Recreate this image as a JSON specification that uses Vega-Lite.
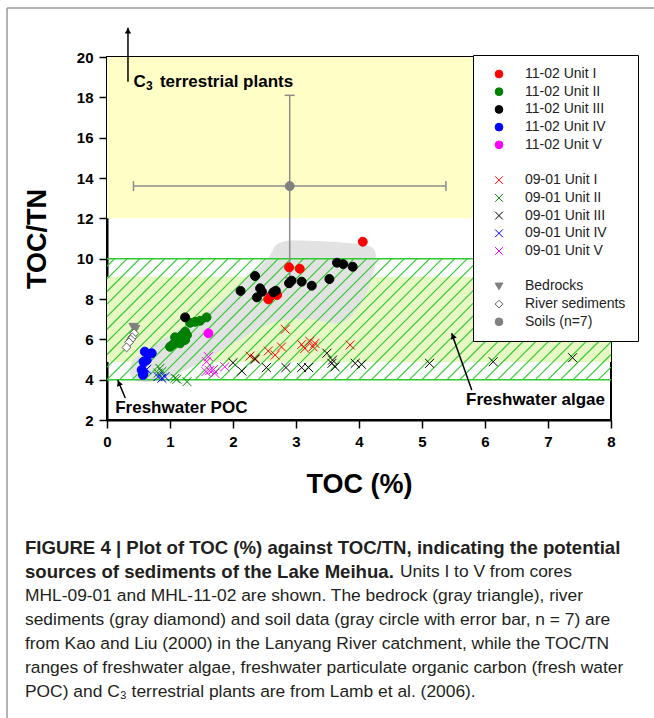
{
  "$schema": "https://vega.github.io/schema/vega-lite/v6.json",
  "width": 504,
  "height": 363,
  "autosize": {"type": "none"},
  "padding": {"left": 107, "top": 57, "right": 43, "bottom": 298},
  "background": "white",
  "datasets": {
    "points": [
      {"s": "11-02 Unit I", "x": 2.89, "y": 9.57},
      {"s": "11-02 Unit I", "x": 3.06, "y": 9.5},
      {"s": "11-02 Unit I", "x": 2.56, "y": 7.98},
      {"s": "11-02 Unit I", "x": 2.6, "y": 8.15},
      {"s": "11-02 Unit I", "x": 2.66, "y": 8.25},
      {"s": "11-02 Unit I", "x": 2.7, "y": 8.2},
      {"s": "11-02 Unit I", "x": 4.06, "y": 10.84},
      {"s": "11-02 Unit II", "x": 1.0, "y": 5.63},
      {"s": "11-02 Unit II", "x": 1.05, "y": 5.75},
      {"s": "11-02 Unit II", "x": 1.13, "y": 5.97},
      {"s": "11-02 Unit II", "x": 1.08, "y": 6.1},
      {"s": "11-02 Unit II", "x": 1.19, "y": 6.21},
      {"s": "11-02 Unit II", "x": 1.24, "y": 6.38},
      {"s": "11-02 Unit II", "x": 1.27, "y": 6.21},
      {"s": "11-02 Unit II", "x": 1.24, "y": 5.97},
      {"s": "11-02 Unit II", "x": 1.16, "y": 5.8},
      {"s": "11-02 Unit II", "x": 1.21, "y": 6.13},
      {"s": "11-02 Unit II", "x": 1.32, "y": 6.82},
      {"s": "11-02 Unit II", "x": 1.4, "y": 6.87},
      {"s": "11-02 Unit II", "x": 1.48, "y": 6.92},
      {"s": "11-02 Unit II", "x": 1.58, "y": 7.09},
      {"s": "11-02 Unit II", "x": 1.19, "y": 6.0},
      {"s": "11-02 Unit III", "x": 1.24, "y": 7.09},
      {"s": "11-02 Unit III", "x": 2.35, "y": 9.14},
      {"s": "11-02 Unit III", "x": 2.12, "y": 8.4},
      {"s": "11-02 Unit III", "x": 2.43, "y": 8.53},
      {"s": "11-02 Unit III", "x": 2.38, "y": 8.08},
      {"s": "11-02 Unit III", "x": 2.46, "y": 8.36},
      {"s": "11-02 Unit III", "x": 2.64, "y": 8.33},
      {"s": "11-02 Unit III", "x": 2.68, "y": 8.41},
      {"s": "11-02 Unit III", "x": 2.89, "y": 8.78},
      {"s": "11-02 Unit III", "x": 2.93, "y": 8.91},
      {"s": "11-02 Unit III", "x": 3.09, "y": 8.86},
      {"s": "11-02 Unit III", "x": 3.25, "y": 8.66},
      {"s": "11-02 Unit III", "x": 3.53, "y": 8.99},
      {"s": "11-02 Unit III", "x": 3.65, "y": 9.8},
      {"s": "11-02 Unit III", "x": 3.75, "y": 9.73},
      {"s": "11-02 Unit III", "x": 3.9, "y": 9.6},
      {"s": "11-02 Unit IV", "x": 0.6, "y": 5.39},
      {"s": "11-02 Unit IV", "x": 0.71, "y": 5.31},
      {"s": "11-02 Unit IV", "x": 0.63, "y": 4.97},
      {"s": "11-02 Unit IV", "x": 0.58, "y": 4.89},
      {"s": "11-02 Unit IV", "x": 0.55, "y": 4.48},
      {"s": "11-02 Unit IV", "x": 0.58, "y": 4.32},
      {"s": "11-02 Unit IV", "x": 0.57, "y": 4.23},
      {"s": "11-02 Unit V", "x": 1.61, "y": 6.3},
      {"s": "09-01 Unit I", "x": 2.83, "y": 6.5},
      {"s": "09-01 Unit I", "x": 2.27, "y": 5.17},
      {"s": "09-01 Unit I", "x": 2.35, "y": 5.05},
      {"s": "09-01 Unit I", "x": 2.56, "y": 5.42},
      {"s": "09-01 Unit I", "x": 2.67, "y": 5.22},
      {"s": "09-01 Unit I", "x": 2.77, "y": 5.62},
      {"s": "09-01 Unit I", "x": 3.09, "y": 5.74},
      {"s": "09-01 Unit I", "x": 3.14, "y": 5.55},
      {"s": "09-01 Unit I", "x": 3.22, "y": 5.9},
      {"s": "09-01 Unit I", "x": 3.27, "y": 5.63},
      {"s": "09-01 Unit I", "x": 3.3, "y": 5.8},
      {"s": "09-01 Unit I", "x": 3.86, "y": 5.72},
      {"s": "09-01 Unit II", "x": 0.84, "y": 4.56},
      {"s": "09-01 Unit II", "x": 0.87, "y": 4.4},
      {"s": "09-01 Unit II", "x": 0.81, "y": 4.32},
      {"s": "09-01 Unit II", "x": 1.11, "y": 4.02},
      {"s": "09-01 Unit II", "x": 1.27, "y": 3.9},
      {"s": "09-01 Unit II", "x": 1.08, "y": 4.07},
      {"s": "09-01 Unit III", "x": 2.0, "y": 4.84},
      {"s": "09-01 Unit III", "x": 2.14, "y": 4.43},
      {"s": "09-01 Unit III", "x": 2.35, "y": 5.01},
      {"s": "09-01 Unit III", "x": 2.53, "y": 4.6},
      {"s": "09-01 Unit III", "x": 2.84, "y": 4.6},
      {"s": "09-01 Unit III", "x": 3.09, "y": 4.6},
      {"s": "09-01 Unit III", "x": 3.2, "y": 4.6},
      {"s": "09-01 Unit III", "x": 3.49, "y": 5.31},
      {"s": "09-01 Unit III", "x": 3.58, "y": 4.97},
      {"s": "09-01 Unit III", "x": 3.57, "y": 4.81},
      {"s": "09-01 Unit III", "x": 3.62, "y": 4.64},
      {"s": "09-01 Unit III", "x": 3.94, "y": 4.81},
      {"s": "09-01 Unit III", "x": 4.04, "y": 4.76},
      {"s": "09-01 Unit III", "x": 5.12, "y": 4.81},
      {"s": "09-01 Unit III", "x": 6.13, "y": 4.89},
      {"s": "09-01 Unit III", "x": 7.39, "y": 5.09},
      {"s": "09-01 Unit IV", "x": 0.63, "y": 4.51},
      {"s": "09-01 Unit IV", "x": 0.81, "y": 4.15},
      {"s": "09-01 Unit IV", "x": 0.87, "y": 4.07},
      {"s": "09-01 Unit IV", "x": 0.92, "y": 4.15},
      {"s": "09-01 Unit IV", "x": 0.6, "y": 4.6},
      {"s": "09-01 Unit V", "x": 1.61, "y": 5.14},
      {"s": "09-01 Unit V", "x": 1.58, "y": 4.89},
      {"s": "09-01 Unit V", "x": 1.57, "y": 4.4},
      {"s": "09-01 Unit V", "x": 1.63, "y": 4.45},
      {"s": "09-01 Unit V", "x": 1.71, "y": 4.32},
      {"s": "09-01 Unit V", "x": 1.69, "y": 4.5},
      {"s": "09-01 Unit V", "x": 1.87, "y": 4.64},
      {"s": "Bedrocks", "x": 0.42, "y": 6.6},
      {"s": "Bedrocks", "x": 0.45, "y": 6.5},
      {"s": "River sediments", "x": 0.43, "y": 6.3},
      {"s": "River sediments", "x": 0.4, "y": 6.1},
      {"s": "River sediments", "x": 0.38, "y": 5.98},
      {"s": "River sediments", "x": 0.35, "y": 5.85},
      {"s": "River sediments", "x": 0.31, "y": 5.6},
      {"s": "Soils (n=7)", "x": 2.9, "y": 13.6}
    ],
    "hatch": [
      {"a": 0, "b": 9.623, "c": 0.121, "d": 10},
      {"a": 0, "b": 8.998, "c": 0.321, "d": 10},
      {"a": 0, "b": 8.374, "c": 0.521, "d": 10},
      {"a": 0, "b": 7.749, "c": 0.721, "d": 10},
      {"a": 0, "b": 7.124, "c": 0.921, "d": 10},
      {"a": 0, "b": 6.499, "c": 1.121, "d": 10},
      {"a": 0, "b": 5.874, "c": 1.321, "d": 10},
      {"a": 0, "b": 5.25, "c": 1.521, "d": 10},
      {"a": 0, "b": 4.625, "c": 1.721, "d": 10},
      {"a": 0.0, "b": 4, "c": 1.921, "d": 10},
      {"a": 0.2, "b": 4, "c": 2.121, "d": 10},
      {"a": 0.4, "b": 4, "c": 2.321, "d": 10},
      {"a": 0.6, "b": 4, "c": 2.521, "d": 10},
      {"a": 0.8, "b": 4, "c": 2.721, "d": 10},
      {"a": 1.0, "b": 4, "c": 2.921, "d": 10},
      {"a": 1.2, "b": 4, "c": 3.121, "d": 10},
      {"a": 1.4, "b": 4, "c": 3.321, "d": 10},
      {"a": 1.6, "b": 4, "c": 3.521, "d": 10},
      {"a": 1.8, "b": 4, "c": 3.721, "d": 10},
      {"a": 2.0, "b": 4, "c": 3.921, "d": 10},
      {"a": 2.2, "b": 4, "c": 4.121, "d": 10},
      {"a": 2.4, "b": 4, "c": 4.321, "d": 10},
      {"a": 2.6, "b": 4, "c": 4.521, "d": 10},
      {"a": 2.8, "b": 4, "c": 4.721, "d": 10},
      {"a": 3.0, "b": 4, "c": 4.921, "d": 10},
      {"a": 3.2, "b": 4, "c": 5.121, "d": 10},
      {"a": 3.4, "b": 4, "c": 5.321, "d": 10},
      {"a": 3.6, "b": 4, "c": 5.521, "d": 10},
      {"a": 3.8, "b": 4, "c": 5.721, "d": 10},
      {"a": 4.0, "b": 4, "c": 5.921, "d": 10},
      {"a": 4.2, "b": 4, "c": 6.121, "d": 10},
      {"a": 4.4, "b": 4, "c": 6.321, "d": 10},
      {"a": 4.6, "b": 4, "c": 6.521, "d": 10},
      {"a": 4.8, "b": 4, "c": 6.721, "d": 10},
      {"a": 5.0, "b": 4, "c": 6.921, "d": 10},
      {"a": 5.2, "b": 4, "c": 7.121, "d": 10},
      {"a": 5.4, "b": 4, "c": 7.321, "d": 10},
      {"a": 5.6, "b": 4, "c": 7.521, "d": 10},
      {"a": 5.8, "b": 4, "c": 7.721, "d": 10},
      {"a": 6.0, "b": 4, "c": 7.921, "d": 10},
      {"a": 6.2, "b": 4, "c": 8, "d": 9.623},
      {"a": 6.4, "b": 4, "c": 8, "d": 8.998},
      {"a": 6.6, "b": 4, "c": 8, "d": 8.374},
      {"a": 6.8, "b": 4, "c": 8, "d": 7.749},
      {"a": 7.0, "b": 4, "c": 8, "d": 7.124},
      {"a": 7.2, "b": 4, "c": 8, "d": 6.499},
      {"a": 7.4, "b": 4, "c": 8, "d": 5.874},
      {"a": 7.6, "b": 4, "c": 8, "d": 5.25},
      {"a": 7.8, "b": 4, "c": 8, "d": 4.625}
    ],
    "blob": [
      {"i": 1, "x": 0.4, "y": 4.1},
      {"i": 2, "x": 0.7, "y": 3.9},
      {"i": 3, "x": 1.2, "y": 4.4},
      {"i": 4, "x": 1.9, "y": 5.6},
      {"i": 5, "x": 2.6, "y": 6.8},
      {"i": 6, "x": 3.2, "y": 7.0},
      {"i": 7, "x": 3.7, "y": 6.8},
      {"i": 8, "x": 4.0, "y": 7.6},
      {"i": 9, "x": 4.2, "y": 9.0},
      {"i": 10, "x": 4.25, "y": 10.4},
      {"i": 11, "x": 3.9, "y": 10.75},
      {"i": 12, "x": 3.0, "y": 10.9},
      {"i": 13, "x": 2.7, "y": 10.7},
      {"i": 14, "x": 2.55, "y": 10.0},
      {"i": 15, "x": 2.2, "y": 9.0},
      {"i": 16, "x": 1.7, "y": 7.6},
      {"i": 17, "x": 1.2, "y": 6.6},
      {"i": 18, "x": 0.7, "y": 5.6},
      {"i": 19, "x": 0.4, "y": 4.9}
    ]
  },
  "layer": [
    {
      "data": {"values": [{}]},
      "mark": {"type": "rect", "color": "#fefec6"},
      "encoding": {
        "x": {"datum": 0, "type": "quantitative",
          "scale": {"domain": [0, 8], "nice": false, "zero": false},
          "axis": {"title": "TOC (%)", "values": [0, 0.5, 1, 1.5, 2, 2.5, 3, 3.5, 4, 4.5, 5, 5.5, 6, 6.5, 7, 7.5, 8],
            "format": "d",
            "labelExpr": "datum.value % 1 === 0 ? datum.label : ''",
            "tickSize": {"condition": {"test": "datum.value % 1 === 0", "value": 8}, "value": 4},
            "labelPadding": 6, "titlePadding": 22}},
        "x2": {"datum": 8},
        "y": {"datum": 12, "type": "quantitative",
          "scale": {"domain": [2, 20], "nice": false, "zero": false},
          "axis": {"title": "TOC/TN", "values": [2, 3, 4, 5, 6, 7, 8, 9, 10, 11, 12, 13, 14, 15, 16, 17, 18, 19, 20],
            "format": "d",
            "labelExpr": "datum.value % 2 === 0 ? datum.label : ''",
            "tickSize": {"condition": {"test": "datum.value % 2 === 0", "value": 8}, "value": 4},
            "labelPadding": 6, "titlePadding": 25}},
        "y2": {"datum": 20}
      }
    },
    {
      "data": {"values": [{}]},
      "mark": {"type": "rect", "color": "#e8f8c4"},
      "encoding": {
        "x": {"datum": 0, "type": "quantitative"},
        "x2": {"datum": 8},
        "y": {"datum": 4.87, "type": "quantitative"},
        "y2": {"datum": 9.1}
      }
    },
    {
      "data": {"name": "blob"},
      "mark": {"type": "line", "interpolate": "cardinal-closed", "fill": "#e2e2e2", "strokeOpacity": 0},
      "encoding": {
        "x": {"field": "x", "type": "quantitative"},
        "y": {"field": "y", "type": "quantitative"},
        "order": {"field": "i", "type": "quantitative"}
      }
    },
    {
      "data": {"name": "hatch"},
      "mark": {"type": "rule", "color": "#2ecc2e", "strokeWidth": 1.2},
      "encoding": {
        "x": {"field": "a", "type": "quantitative"},
        "y": {"field": "b", "type": "quantitative"},
        "x2": {"field": "c"},
        "y2": {"field": "d"}
      }
    },
    {
      "data": {"values": [{"v": 4}, {"v": 10}]},
      "mark": {"type": "rule", "color": "#2ecc2e", "strokeWidth": 1.5},
      "encoding": {
        "x": {"datum": 0, "type": "quantitative"},
        "x2": {"datum": 8},
        "y": {"field": "v", "type": "quantitative"}
      }
    },
    {
      "data": {"values": [{}]},
      "mark": {"type": "rule", "color": "#9a9a9a", "strokeWidth": 1.5, "clip": false},
      "encoding": {
        "x": {"datum": -1.587, "type": "quantitative"},
        "y": {"datum": 22.43, "type": "quantitative"},
        "y2": {"datum": -16}
      }
    },
    {
      "data": {"values": [{}]},
      "mark": {"type": "rule", "color": "#9a9a9a", "strokeWidth": 1.5, "clip": false},
      "encoding": {
        "x": {"datum": -1.587, "type": "quantitative"},
        "x2": {"datum": 9.5},
        "y": {"datum": 22.43, "type": "quantitative"}
      }
    },
    {
      "data": {"values": [{"x": 2.9, "y": 13.6, "xlo": 0.42, "xhi": 5.38, "ylo": 9.05, "yhi": 18.1}]},
      "layer": [
        {"mark": {"type": "rule", "color": "#8c8c8c", "strokeWidth": 1.5},
          "encoding": {"x": {"field": "xlo", "type": "quantitative"}, "x2": {"field": "xhi"}, "y": {"field": "y", "type": "quantitative"}}},
        {"mark": {"type": "rule", "color": "#8c8c8c", "strokeWidth": 1.5},
          "encoding": {"x": {"field": "x", "type": "quantitative"}, "y": {"field": "ylo", "type": "quantitative"}, "y2": {"field": "yhi"}}},
        {"mark": {"type": "tick", "orient": "vertical", "size": 10, "thickness": 1.5, "color": "#8c8c8c", "opacity": 1},
          "encoding": {"x": {"field": "xlo", "type": "quantitative"}, "y": {"field": "y", "type": "quantitative"}}},
        {"mark": {"type": "tick", "orient": "vertical", "size": 10, "thickness": 1.5, "color": "#8c8c8c", "opacity": 1},
          "encoding": {"x": {"field": "xhi", "type": "quantitative"}, "y": {"field": "y", "type": "quantitative"}}},
        {"mark": {"type": "tick", "orient": "horizontal", "size": 10, "thickness": 1.5, "color": "#8c8c8c", "opacity": 1},
          "encoding": {"x": {"field": "x", "type": "quantitative"}, "y": {"field": "yhi", "type": "quantitative"}}},
        {"mark": {"type": "tick", "orient": "horizontal", "size": 10, "thickness": 1.5, "color": "#8c8c8c", "opacity": 1},
          "encoding": {"x": {"field": "x", "type": "quantitative"}, "y": {"field": "ylo", "type": "quantitative"}}}
      ]
    },
    {
      "data": {"name": "points"},
      "mark": {"type": "point", "filled": true, "opacity": 1, "size": 80, "strokeWidth": 1},
      "encoding": {
        "x": {"field": "x", "type": "quantitative"},
        "y": {"field": "y", "type": "quantitative"},
        "shape": {"field": "s", "type": "nominal",
          "scale": {"domain": ["11-02 Unit I", "11-02 Unit II", "11-02 Unit III", "11-02 Unit IV", "11-02 Unit V", "gap1", "09-01 Unit I", "09-01 Unit II", "09-01 Unit III", "09-01 Unit IV", "09-01 Unit V", "gap2", "Bedrocks", "River sediments", "Soils (n=7)"],
            "range": ["circle", "circle", "circle", "circle", "circle", "circle", "M-1,-1L1,1M-1,1L1,-1", "M-1,-1L1,1M-1,1L1,-1", "M-1,-1L1,1M-1,1L1,-1", "M-1,-1L1,1M-1,1L1,-1", "M-1,-1L1,1M-1,1L1,-1", "circle", "triangle-down", "diamond", "circle"]},
          "legend": {"title": null, "orient": "none", "legendX": 366, "legendY": -2, "strokeColor": "black", "fillColor": "white", "padding": 12, "labelFont": "Liberation Sans", "labelFontSize": 14, "labelColor": "#222222", "symbolSize": 60, "symbolStrokeWidth": 1, "rowPadding": 3.7, "labelOffset": 19, "symbolOffset": 7, "labelLimit": 250, "labelExpr": "indexof(datum.label, 'gap') === 0 ? '' : datum.label"}},
        "fill": {"field": "s", "type": "nominal",
          "scale": {"domain": ["11-02 Unit I", "11-02 Unit II", "11-02 Unit III", "11-02 Unit IV", "11-02 Unit V", "gap1", "09-01 Unit I", "09-01 Unit II", "09-01 Unit III", "09-01 Unit IV", "09-01 Unit V", "gap2", "Bedrocks", "River sediments", "Soils (n=7)"],
            "range": ["#ff0000", "#008000", "#000000", "#0000ff", "#ff00ff", "transparent", "transparent", "transparent", "transparent", "transparent", "transparent", "transparent", "#808080", "#ffffff", "#808080"]},
          "legend": {"title": null, "orient": "none", "legendX": 366, "legendY": -2, "strokeColor": "black", "fillColor": "white", "padding": 12, "labelFont": "Liberation Sans", "labelFontSize": 14, "labelColor": "#222222", "symbolSize": 60, "symbolStrokeWidth": 1, "rowPadding": 3.7, "labelOffset": 19, "symbolOffset": 7, "labelLimit": 250, "labelExpr": "indexof(datum.label, 'gap') === 0 ? '' : datum.label"}},
        "stroke": {"field": "s", "type": "nominal",
          "scale": {"domain": ["11-02 Unit I", "11-02 Unit II", "11-02 Unit III", "11-02 Unit IV", "11-02 Unit V", "gap1", "09-01 Unit I", "09-01 Unit II", "09-01 Unit III", "09-01 Unit IV", "09-01 Unit V", "gap2", "Bedrocks", "River sediments", "Soils (n=7)"],
            "range": ["#ff0000", "#008000", "#000000", "#0000ff", "#ff00ff", "transparent", "#ff0000", "#008000", "#000000", "#0000ff", "#ff00ff", "transparent", "#808080", "#606060", "#808080"]},
          "legend": {"title": null, "orient": "none", "legendX": 366, "legendY": -2, "strokeColor": "black", "fillColor": "white", "padding": 12, "labelFont": "Liberation Sans", "labelFontSize": 14, "labelColor": "#222222", "symbolSize": 60, "symbolStrokeWidth": 1, "rowPadding": 3.7, "labelOffset": 19, "symbolOffset": 7, "labelLimit": 250, "labelExpr": "indexof(datum.label, 'gap') === 0 ? '' : datum.label"}}
      }
    },
    {
      "data": {"values": [
        {"x": 0.333, "y": 18.77, "x2": 0.333, "y2": 21.45},
        {"x": 0.29, "y": 3.09, "x2": 0.17, "y2": 3.98},
        {"x": 5.79, "y": 3.49, "x2": 5.47, "y2": 6.3}
      ]},
      "mark": {"type": "rule", "color": "black", "strokeWidth": 1.5, "clip": false},
      "encoding": {
        "x": {"field": "x", "type": "quantitative"},
        "y": {"field": "y", "type": "quantitative"},
        "x2": {"field": "x2"},
        "y2": {"field": "y2"}
      }
    },
    {
      "data": {"values": [{"x": 0.333, "y": 21.3}]},
      "mark": {"type": "point", "shape": "triangle-up", "filled": true, "color": "black", "opacity": 1, "size": 40, "clip": false},
      "encoding": {
        "x": {"field": "x", "type": "quantitative"},
        "y": {"field": "y", "type": "quantitative"}
      }
    },
    {
      "data": {"values": [{"x": 0.19, "y": 3.83}, {"x": 5.49, "y": 6.16}]},
      "mark": {"type": "point", "shape": "triangle-up", "filled": true, "color": "black", "opacity": 1, "size": 40, "angle": -20},
      "encoding": {
        "x": {"field": "x", "type": "quantitative"},
        "y": {"field": "y", "type": "quantitative"}
      }
    },
    {
      "data": {"values": [
        {"t": "Freshwater POC", "x": 0.13, "y": 2.6},
        {"t": "Freshwater algae", "x": 5.7, "y": 2.98},
        {"t": "C", "x": 0.42, "y": 18.77},
        {"t": "terrestrial plants", "x": 0.84, "y": 18.77}
      ]},
      "mark": {"type": "text", "align": "left", "baseline": "middle", "font": "Liberation Sans", "fontSize": 17, "fontWeight": "bold", "color": "black"},
      "encoding": {
        "x": {"field": "x", "type": "quantitative"},
        "y": {"field": "y", "type": "quantitative"},
        "text": {"field": "t"}
      }
    },
    {
      "data": {"values": [{"t": "3", "x": 0.62, "y": 18.56}]},
      "mark": {"type": "text", "align": "left", "baseline": "middle", "font": "Liberation Sans", "fontSize": 12, "fontWeight": "bold", "color": "black"},
      "encoding": {
        "x": {"field": "x", "type": "quantitative"},
        "y": {"field": "y", "type": "quantitative"},
        "text": {"field": "t"}
      }
    },
    {
      "data": {"values": [{"x": -1.302, "y": -4.347}]},
      "mark": {"type": "text", "align": "left", "baseline": "middle", "font": "Liberation Sans", "fontSize": 18.6, "fontWeight": "bold", "color": "#231f20", "lineHeight": 24, "clip": false,
        "text": ["FIGURE 4 | Plot of TOC (%) against TOC/TN, indicating the potential", "sources of sediments of the Lake Meihua."]},
      "encoding": {
        "x": {"field": "x", "type": "quantitative"},
        "y": {"field": "y", "type": "quantitative"}
      }
    },
    {
      "data": {"values": [{"x": 4.65, "y": -5.537}]},
      "mark": {"type": "text", "align": "left", "baseline": "middle", "font": "Liberation Sans", "fontSize": 17.4, "color": "#231f20", "clip": false, "text": "Units I to V from cores"},
      "encoding": {
        "x": {"field": "x", "type": "quantitative"},
        "y": {"field": "y", "type": "quantitative"}
      }
    },
    {
      "data": {"values": [{"x": -1.302, "y": -6.727}]},
      "mark": {"type": "text", "align": "left", "baseline": "middle", "font": "Liberation Sans", "fontSize": 17.4, "color": "#231f20", "lineHeight": 24, "clip": false,
        "text": ["MHL-09-01 and MHL-11-02 are shown. The bedrock (gray triangle), river", "sediments (gray diamond) and soil data (gray circle with error bar, n = 7) are", "from Kao and Liu (2000) in the Lanyang River catchment, while the TOC/TN", "ranges of freshwater algae, freshwater particulate organic carbon (fresh water", "POC) and C₃ terrestrial plants are from Lamb et al. (2006)."]},
      "encoding": {
        "x": {"field": "x", "type": "quantitative"},
        "y": {"field": "y", "type": "quantitative"}
      }
    }
  ],
  "config": {
    "font": "Liberation Sans",
    "view": {"stroke": "black", "strokeWidth": 2},
    "axis": {
      "domainColor": "black", "domainWidth": 2,
      "tickColor": "black", "tickWidth": 1.5,
      "labelColor": "black", "titleColor": "black",
      "labelFont": "Liberation Sans", "titleFont": "Liberation Sans",
      "labelFontSize": 15, "labelFontWeight": "bold",
      "titleFontSize": 27, "titleFontWeight": "bold",
      "grid": false, "labelFlush": false, "labelOverlap": false
    }
  }
}
